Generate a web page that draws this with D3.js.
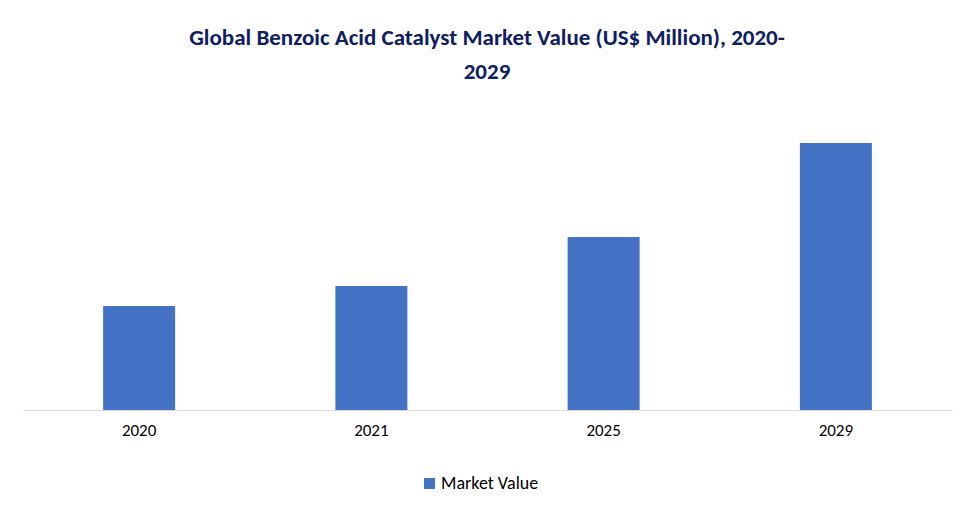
<!DOCTYPE html>
<html>
<head>
<meta charset="utf-8">
<script src="https://cdn.jsdelivr.net/npm/d3@7"></script>
<style>
  body { margin: 0; background: #fff; }
  text { font-family: Carlito, "Open Sans", sans-serif; }
</style>
</head>
<body>
<svg width="975" height="516"></svg>
<script>
var years = ["2020", "2021", "2025", "2029"];
var values = [104, 124, 173, 267];
var titleLines = ["Global Benzoic Acid Catalyst Market Value (US$ Million), 2020-", "2029"];
var seriesName = "Market Value";

var svg = d3.select("svg");
var color = "#4472C4";
var baseY = 410;

var x = d3.scaleBand()
    .domain(years)
    .range([23, 952])
    .paddingInner(0.69)
    .paddingOuter(0.345);

var y = d3.scaleLinear()
    .domain([0, 300])
    .range([baseY, baseY - 300]);

svg.selectAll("text.title")
    .data(titleLines)
    .enter().append("text")
    .attr("class", "title")
    .attr("x", 487)
    .attr("y", function (d, i) { return 45 + i * 34; })
    .attr("text-anchor", "middle")
    .attr("font-size", 23)
    .attr("font-weight", "bold")
    .attr("fill", "#0E2060")
    .text(function (d) { return d; });

svg.selectAll("rect.bar")
    .data(values)
    .enter().append("rect")
    .attr("class", "bar")
    .attr("x", function (d, i) { return x(years[i]); })
    .attr("width", x.bandwidth())
    .attr("y", function (d) { return y(d); })
    .attr("height", function (d) { return baseY - y(d); })
    .attr("fill", color);

var axis = svg.append("g")
    .attr("transform", "translate(0," + baseY + ")")
    .call(d3.axisBottom(x).tickSize(0).tickPadding(14));
axis.select(".domain").attr("stroke", "#D9D9D9");
axis.selectAll("text")
    .attr("font-size", 17)
    .attr("fill", "#000")
    .style("font-family", "Carlito, 'Open Sans', sans-serif");

var legend = svg.append("g").attr("transform", "translate(424,478)");
legend.append("rect").attr("width", 11).attr("height", 11).attr("fill", color);
legend.append("text")
    .attr("x", 17)
    .attr("y", 11)
    .attr("font-size", 18)
    .attr("fill", "#000")
    .text(seriesName);
</script>
</body>
</html>
